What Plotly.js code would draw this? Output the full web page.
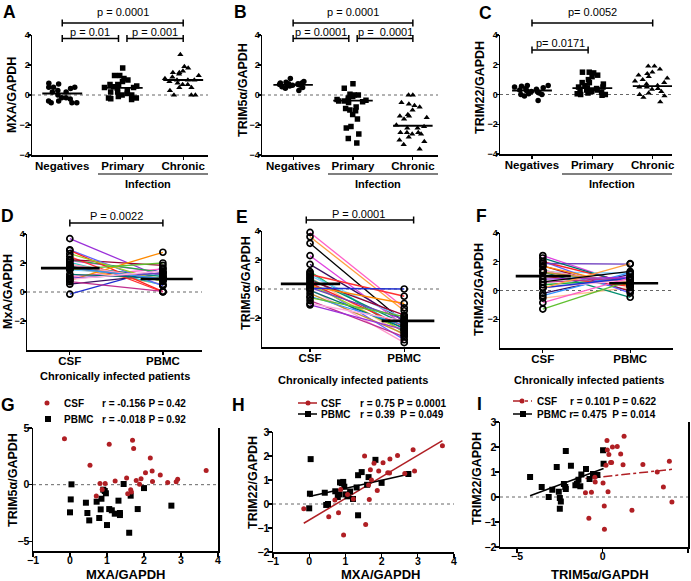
<!DOCTYPE html>
<html>
<head>
<meta charset="utf-8">
<script src="https://cdn.plot.ly/plotly-3.0.1.min.js"></script>
<style>html,body{margin:0;padding:0;background:#fff}#plot{width:691px;height:581px}</style>
</head>
<body>
<div id="plot"></div>
<script>
const W = 691, H = 581;
const FONT = 'Liberation Sans, Arial, Helvetica, sans-serif';
const RED = '#b01f24';

//------------------------------------------------------------------------------
// A-C : expression by cohort

const groups = ['Negatives', 'Primary', 'Chronic'];

const mxaNeg = [0.78, 0.73, 0.51, 0.51, 0.51, 0.44, 0.3, 0.2, 0.2, 0.0, -0.18, -0.18, -0.27, -0.4, -0.4, -0.51, -0.51, -0.51];
const mxaPrim = [1.8, 1.3, 1.3, 1.1, 1.0, 0.9, 0.7, 0.7, 0.65, 0.6, 0.55, 0.5, 0.5, 0.45, 0.3, 0.2, 0.2, 0.1, 0.0, 0.0, -0.1, -0.2, -0.2, -0.25, -0.3];
const mxaChron = [2.7, 1.9, 1.8, 1.6, 1.5, 1.5, 1.4, 1.3, 1.2, 1.1, 1.0, 1.0, 1.0, 0.9, 0.8, 0.7, 0.7, 0.5, 0.5, 0.3, 0.0, 0.0, 0.0];
const mxaMedian = [0.1, 0.48, 1.0];

const trim5Neg = [1.1, 0.9, 0.85, 0.8, 0.8, 0.75, 0.75, 0.7, 0.7, 0.7, 0.65, 0.65, 0.6, 0.55, 0.5, 0.45, 0.3];
const trim5Prim = [0.75, 0.45, 0.05, 0.0, 0.0, -0.1, -0.2, -0.3, -0.35, -0.35, -0.4, -0.4, -0.45, -0.5, -0.8, -0.9, -1.0, -1.05, -1.3, -1.6, -2.1, -2.2, -2.6, -2.9, -3.2];
const trim5Chron = [0.0, 0.0, -0.5, -0.6, -0.7, -0.8, -1.0, -1.3, -1.4, -1.4, -1.5, -1.6, -2.0, -2.1, -2.2, -2.2, -2.5, -2.5, -2.5, -2.6, -2.6, -2.8, -3.0, -3.1, -3.3, -3.6];
const trim5Median = [0.68, -0.38, -2.05];

const trim22Neg = [0.6, 0.6, 0.55, 0.5, 0.45, 0.4, 0.35, 0.3, 0.25, 0.2, 0.2, 0.1, 0.05, 0.0, 0.0, -0.1, -0.4];
const trim22Prim = [1.5, 1.5, 1.45, 1.3, 1.2, 1.0, 0.8, 0.8, 0.7, 0.6, 0.5, 0.5, 0.45, 0.4, 0.35, 0.3, 0.3, 0.2, 0.15, 0.1, 0.05, 0.0, 0.0, -0.05];
const trim22Chron = [1.9, 1.9, 1.7, 1.5, 1.4, 1.3, 1.2, 1.1, 1.0, 0.9, 0.8, 0.7, 0.6, 0.5, 0.5, 0.4, 0.35, 0.2, 0.1, 0.0, -0.1, -0.2, -0.5];
const trim22Median = [0.27, 0.43, 0.56];

//------------------------------------------------------------------------------
// D-I : chronically infected patients, CSF vs PBMC (same patient order)

const mxaCsf = [3.68, -0.15, 1.06, 1.69, 1.72, 2.17, 0.54, 2.22, 2.04, 2.44, 1.53, 1.92, 1.79, 2.23, 2.91, 2.87, 2.64, 0.81, 0.95, 1.88, 1.22, 1.64, 1.66, 1.56, 0.71, 0.87];
const trim5Csf = [1.26, 4.06, 3.56, 3.91, 3.20, 2.36, 1.72, 1.20, 1.06, 0.86, 0.58, 0.53, 0.37, 0.28, 0.47, 0.26, 0.20, 0.10, 0.11, 0.03, 0.32, -0.45, -0.65, -0.80, -1.00, -0.43];
const trim22Csf = [2.43, -0.20, 0.40, 1.43, 1.00, 1.30, -0.53, 1.29, 1.72, 2.02, 2.00, 1.38, 1.70, 1.88, 1.38, 2.26, 1.27, -0.36, -1.29, 0.56, 0.21, 0.79, 0.19, -0.85, 0.17, 0.60];

const mxaPbmc = [1.00, 1.64, 1.60, 0.52, 0.79, 1.35, 1.21, 1.35, 0.47, 0.00, 1.13, 0.83, 1.06, 1.83, 0.43, 0.02, 0.72, 2.74, 1.31, 0.85, 0.97, 0.94, 0.90, 2.00, 0.04, 1.45];
const trim5Pbmc = [-3.56, -0.97, -4.24, -3.15, -2.94, -2.68, -2.56, -2.50, -2.50, -2.44, -2.26, -2.18, -2.15, -2.15, -1.59, -1.30, -1.50, -1.85, -1.41, -1.24, -0.76, -0.56, -0.44, -0.30, 0.03, 0.06];
const trim22Pbmc = [0.40, 1.12, 0.80, 0.00, 0.29, 1.20, 0.21, -0.47, -0.04, -0.18, 0.52, 0.40, 0.32, 1.84, 0.47, 0.43, 0.53, 1.25, 0.69, 0.90, 0.72, 0.92, 0.87, 0.88, 1.87, 1.33];

// panel E as drawn (paired values)
const trim5CsfE = [3.90, 3.60, 3.15, 2.30, 1.70, 1.20, 1.10, 1.00, 0.90, 0.80, 0.70, 0.60, 0.50, 0.40, 0.30, 0.20, 0.10, 0.00, -0.10, -0.30, -0.50, -0.60, -0.80, -1.00, -1.10, 0.05];
const trim5PbmcE = [-1.30, -1.50, -2.30, -2.50, -2.20, -3.00, -2.80, -0.50, -2.00, -3.20, -2.40, -1.80, -3.50, -2.60, -2.90, -1.00, -2.10, -3.70, -2.70, -3.10, -2.50, -1.90, -3.30, -2.20, -2.80, 0.00];

const pairLabels = ['CSF', 'PBMC'];
const mxaMean = [1.65, 0.9];
const trim5Mean = [0.35, -2.2];
const trim22Mean = [1.0, 0.5];

const pairColors = ['#9b30d9', '#1f2fd0', '#ff5fc8', '#ffa040', '#000000', '#e040e0', '#3a1060',
  '#20b040', '#30c8d0', '#ff3030', '#80d0ff', '#ffc090', '#009070', '#990033', '#6060ff',
  '#ff2020', '#a0d020', '#ff8a00', '#7040c0', '#ff99cc', '#007070', '#c09030', '#3090ff',
  '#60c030', '#c03090', '#ffb0e0'];

//------------------------------------------------------------------------------

const fx = p => p / W;
const fy = p => 1 - p / H;
const ax = n => ({ x: n === 1 ? 'x' : 'x' + n, y: n === 1 ? 'y' : 'y' + n });

const layout = {
  width: W, height: H,
  margin: { l: 0, r: 0, t: 0, b: 0 },
  paper_bgcolor: 'white', plot_bgcolor: 'white',
  showlegend: false,
  font: { family: FONT, color: 'black' },
  shapes: [], annotations: []
};

function addAxes(n, xPx, yPx, xOpt, yOpt) {
  const base = {
    showline: true, linecolor: 'black', linewidth: 1.5,
    ticks: 'outside', ticklen: 3, tickwidth: 1.2, tickcolor: 'black',
    showgrid: false, zeroline: false, fixedrange: true,
    tickfont: { family: FONT, size: 9, weight: 'bold', color: 'black' }
  };
  const a = ax(n);
  layout[n === 1 ? 'xaxis' : 'xaxis' + n] = Object.assign({}, base,
    { domain: [fx(xPx[0]), fx(xPx[1])], anchor: a.y, ticklabelstandoff: -3 }, xOpt);
  layout[n === 1 ? 'yaxis' : 'yaxis' + n] = Object.assign({}, base,
    { domain: [fy(yPx[1]), fy(yPx[0])], anchor: a.x, ticklabelstandoff: -4 }, yOpt);
  // dotted zero reference
  layout.shapes.push({ type: 'line', xref: a.x + ' domain', yref: a.y, x0: 0, x1: 1, y0: 0, y1: 0,
    line: { color: '#666', width: 1, dash: 'dot' }, layer: 'below' });
}

function ann(xp, yp, text, size, opts) {
  return Object.assign({
    xref: 'paper', yref: 'paper', x: fx(xp), y: fy(yp), text: text, showarrow: false,
    xanchor: 'center', yanchor: 'middle', font: { family: FONT, size: size, color: 'black' }
  }, opts || {});
}

function bracket(n, x0, x1, yPx, label, labelYPx, labelX) {
  const xr = ax(n).x, l = { color: 'black', width: 1.5 };
  layout.shapes.push({ type: 'line', xref: xr, yref: 'paper', x0: x0, x1: x1, y0: fy(yPx), y1: fy(yPx), line: l });
  [x0, x1].forEach(x => layout.shapes.push({ type: 'line', xref: xr, yref: 'paper', x0: x, x1: x,
    y0: fy(yPx - 3.5), y1: fy(yPx + 3.5), line: l }));
  layout.annotations.push(ann(0, labelYPx, label, 11,
    { xref: xr, x: labelX === undefined ? (x0 + x1) / 2 : labelX }));
}

const traces = [];

//------------------------------------------------------------------------------
// A-C

const catTickFont = { family: FONT, size: 11.5, weight: 'bold', color: 'black' };
const cohortPanels = [
  { n: 1, xPx: [32, 208], yPx: [35, 155], xr: [-0.5, 2.41], sets: [mxaNeg, mxaPrim, mxaChron], med: mxaMedian },
  { n: 2, xPx: [262, 438], yPx: [35, 155], xr: [-0.52, 2.42], sets: [trim5Neg, trim5Prim, trim5Chron], med: trim5Median },
  { n: 3, xPx: [500, 672], yPx: [35, 154], xr: [-0.53, 2.32], sets: [trim22Neg, trim22Prim, trim22Chron], med: trim22Median }
];
const symbols = ['circle', 'square', 'triangle-up'];

cohortPanels.forEach(p => {
  addAxes(p.n, p.xPx, p.yPx,
    { range: p.xr, tickvals: [0, 1, 2], ticktext: groups, tickfont: catTickFont },
    { range: [-4, 4], tickvals: [-4, -2, 0, 2, 4] });
  const a = ax(p.n);
  p.sets.forEach((ys, k) => {
    traces.push({
      type: 'box', x0: k, y: ys, xaxis: a.x, yaxis: a.y, width: 0.62,
      boxpoints: 'all', jitter: 1, pointpos: 0,
      fillcolor: 'rgba(0,0,0,0)', line: { width: 0, color: 'rgba(0,0,0,0)' }, whiskerwidth: 0,
      marker: { symbol: symbols[k], size: 5.5, color: 'black' }, hoverinfo: 'skip'
    });
    traces.push({
      type: 'scatter', mode: 'lines', x: [k - 0.33, k + 0.33], y: [p.med[k], p.med[k]],
      xaxis: a.x, yaxis: a.y, line: { color: 'black', width: 1.8 }, hoverinfo: 'skip'
    });
  });
  // "Infection" group label
  const x0 = p.xPx[1] - 110;
  layout.shapes.push({ type: 'line', xref: 'paper', yref: 'paper', x0: fx(x0), x1: fx(p.xPx[1]),
    y0: fy(174), y1: fy(174), line: { color: 'black', width: 1.2 } });
  layout.annotations.push(ann(x0 + 50, 183.5, '<b>Infection</b>', 11));
});

bracket(1, 0, 2, 23, 'p = 0.0001', 12.5);
bracket(1, 0, 0.93, 38.5, 'p = 0.01', 32);
bracket(1, 1.07, 2, 38.5, 'p = 0.001', 32);
bracket(2, 0, 2, 23, 'p = 0.0001', 12.5);
bracket(2, 0, 0.93, 38.5, 'p = 0.0001', 32);
bracket(2, 1.07, 2, 38.5, 'p =  0.0001', 32);
bracket(3, 0, 2, 23, 'p= 0.0052', 12.5);
bracket(3, 0, 0.93, 50, 'p= 0.0171', 42.5);

//------------------------------------------------------------------------------
// D-F paired

const pairPanels = [
  { n: 4, xPx: [27, 202], yPx: [234, 350], xr: [-0.46, 1.42], csf: mxaCsf, pbmc: mxaPbmc, mean: mxaMean, shift: 0 },
  { n: 5, xPx: [262, 440], yPx: [231, 347], xr: [-0.51, 1.38], csf: trim5CsfE, pbmc: trim5PbmcE, mean: trim5Mean, shift: 2 },
  { n: 6, xPx: [500, 673], yPx: [233, 348], xr: [-0.49, 1.49], csf: trim22Csf, pbmc: trim22Pbmc, mean: trim22Mean, shift: 5 }
];

pairPanels.forEach(p => {
  addAxes(p.n, p.xPx, p.yPx,
    { range: p.xr, tickvals: [0, 1], ticktext: pairLabels, tickfont: catTickFont },
    { range: [-4, 4], tickvals: [-2, 0, 2, 4] });
  const a = ax(p.n);
  p.csf.forEach((v, i) => traces.push({
    type: 'scatter', mode: 'lines', x: [0, 1], y: [v, p.pbmc[i]], xaxis: a.x, yaxis: a.y,
    line: { color: pairColors[(i + p.shift) % pairColors.length], width: 1.3 }, hoverinfo: 'skip'
  }));
  [p.csf, p.pbmc].forEach((ys, k) => traces.push({
    type: 'scatter', mode: 'markers', x: ys.map(() => k), y: ys, xaxis: a.x, yaxis: a.y,
    marker: { symbol: 'circle-open', size: 6, color: 'black', line: { width: 1.7, color: 'black' } },
    cliponaxis: false, hoverinfo: 'skip'
  }));
  [[-0.31, 0.32], [0.76, 1.32]].forEach((xs, k) => traces.push({
    type: 'scatter', mode: 'lines', x: xs, y: [p.mean[k], p.mean[k]], xaxis: a.x, yaxis: a.y,
    line: { color: 'black', width: 2.6 }, hoverinfo: 'skip'
  }));
  layout.annotations.push(ann((p.xPx[0] + p.xPx[1]) / 2 + (p.n === 4 ? 0 : 2), p.n === 4 ? 375.5 : 380,
    '<b>Chronically infected patients</b>', 11));
});

bracket(4, 0, 1, 223, 'P = 0.0022', 216.5);
bracket(5, -0.04, 1.1, 220, 'P = 0.0001', 213.5, 0.51);

//------------------------------------------------------------------------------
// G-I correlations

function linFit(xs, ys) {
  const n = xs.length;
  const mx = xs.reduce((s, v) => s + v, 0) / n, my = ys.reduce((s, v) => s + v, 0) / n;
  let sxy = 0, sxx = 0;
  xs.forEach((x, i) => { sxy += (x - mx) * (ys[i] - my); sxx += (x - mx) * (x - mx); });
  const b = sxy / sxx, lo = Math.min(...xs), hi = Math.max(...xs);
  return { x: [lo, hi], y: [my + b * (lo - mx), my + b * (hi - mx)] };
}

const numTickFont = { family: FONT, size: 10.5, weight: 'bold', color: 'black' };
const corrPanels = [
  { n: 7, xPx: [33, 218], yPx: [428, 551], xr: [-1, 4], xt: [-1, 0, 1, 2, 3, 4], yr: [-5.85, 5], yt: [-5, 0, 5],
    csf: [mxaCsf, trim5Csf], pbmc: [mxaPbmc, trim5Pbmc], mirror: true, fit: false },
  { n: 8, xPx: [273, 454], yPx: [432, 552], xr: [-1, 4], xt: [-1, 0, 1, 2, 3, 4], yr: [-2, 3], yt: [-2, -1, 0, 1, 2, 3],
    csf: [mxaCsf, trim22Csf], pbmc: [mxaPbmc, trim22Pbmc], mirror: false, fit: true, dash: 'solid' },
  { n: 9, xPx: [500, 688], yPx: [422, 547], xr: [-6, 5], xt: [-5, 0, 5], yr: [-2, 3], yt: [-2, -1, 0, 1, 2, 3],
    csf: [trim5Csf, trim22Csf], pbmc: [trim5Pbmc, trim22Pbmc], mirror: true, fit: true, dash: 'dashdot' }
];

corrPanels.forEach(p => {
  addAxes(p.n, p.xPx, p.yPx,
    { range: p.xr, tickvals: p.xt, tickfont: numTickFont, ticklen: 4, ticklabelstandoff: -5 },
    { range: p.yr, tickvals: p.yt, tickfont: numTickFont, mirror: p.mirror, ticklen: 4 });
  const a = ax(p.n);
  if (p.fit) {
    const fc = linFit(p.csf[0], p.csf[1]), fp = linFit(p.pbmc[0], p.pbmc[1]);
    traces.push({ type: 'scatter', mode: 'lines', x: fc.x, y: fc.y, xaxis: a.x, yaxis: a.y,
      line: { color: RED, width: 1.5, dash: p.dash }, hoverinfo: 'skip' });
    traces.push({ type: 'scatter', mode: 'lines', x: fp.x, y: fp.y, xaxis: a.x, yaxis: a.y,
      line: { color: 'black', width: 1.5 }, hoverinfo: 'skip' });
  }
  traces.push({ type: 'scatter', mode: 'markers', x: p.pbmc[0], y: p.pbmc[1], xaxis: a.x, yaxis: a.y,
    marker: { symbol: 'square', size: 6, color: 'black' }, hoverinfo: 'skip' });
  traces.push({ type: 'scatter', mode: 'markers', x: p.csf[0], y: p.csf[1], xaxis: a.x, yaxis: a.y,
    marker: { symbol: 'circle', size: 5, color: RED }, hoverinfo: 'skip' });
});

// legend keys
function keyDot(cx, cy, color) {
  layout.shapes.push({ type: 'circle', xref: 'paper', yref: 'paper', x0: fx(cx - 2.5), x1: fx(cx + 2.5),
    y0: fy(cy + 2.5), y1: fy(cy - 2.5), fillcolor: color, line: { width: 0 } });
}
function keySquare(cx, cy) {
  layout.shapes.push({ type: 'rect', xref: 'paper', yref: 'paper', x0: fx(cx - 3), x1: fx(cx + 3),
    y0: fy(cy + 3), y1: fy(cy - 3), fillcolor: 'black', line: { width: 0 } });
}
function keyLine(x0, x1, cy, color, dash) {
  layout.shapes.push({ type: 'line', xref: 'paper', yref: 'paper', x0: fx(x0), x1: fx(x1), y0: fy(cy), y1: fy(cy),
    line: { color: color, width: 1.5, dash: dash || 'solid' } });
}
const leftText = { xanchor: 'left' };

keyDot(47, 403, RED); keySquare(48, 419);
layout.annotations.push(ann(62, 403, '<b>CSF</b>', 10, leftText), ann(100, 403, '<b>r = -0.156 P = 0.42</b>', 10, leftText),
  ann(62, 419, '<b>PBMC</b>', 10, leftText), ann(100, 419, '<b>r = -0.018 P = 0.92</b>', 10, leftText));

keyLine(298, 317, 403, RED); keyDot(308, 403, RED);
keyLine(298, 317, 414, 'black'); keySquare(308, 414);
layout.annotations.push(ann(319, 403, '<b>CSF</b>', 10, leftText), ann(358, 403, '<b>r = 0.75 P = 0.0001</b>', 10, leftText),
  ann(319, 414, '<b>PBMC</b>', 10, leftText), ann(358, 414, '<b>r = 0.39  P = 0.049</b>', 10, leftText));

keyLine(513, 532, 401, RED, 'dashdot'); keyDot(522, 401, RED);
keyLine(513, 532, 414, 'black'); keySquare(523, 414);
layout.annotations.push(ann(535, 401, '<b>CSF</b>', 10, leftText), ann(568, 401, '<b>r = 0.101 P = 0.622</b>', 10, leftText),
  ann(535, 414, '<b>PBMC r= 0.475  P = 0.014</b>', 10, leftText));

//------------------------------------------------------------------------------
// titles and panel letters

const yTitle = (xp, yp, t) => ann(xp, yp, '<b>' + t + '</b>', 12.5, { textangle: -90 });
layout.annotations.push(
  yTitle(12, 95, 'MXA/GAPDH'), yTitle(243, 90, 'TRIM5α/GAPDH'), yTitle(480, 88, 'TRIM22/GAPDH'),
  yTitle(8, 292, 'MxA/GAPDH'), yTitle(246, 283, 'TRIM5α/GAPDH'), yTitle(479, 290, 'TRIM22/GAPDH'),
  yTitle(13, 480, 'TRIM5α/GAPDH'), yTitle(253, 483, 'TRIM22/GAPDH'), yTitle(477, 478, 'TRIM22/GAPDH'),
  ann(125, 574.5, '<b>MXA/GAPDH</b>', 13), ann(380, 574.5, '<b>MXA/GAPDH</b>', 13), ann(600, 574.5, '<b>TRIM5α/GAPDH</b>', 13)
);

[['A', 9, 12], ['B', 241, 12], ['C', 485, 13], ['D', 8, 216], ['E', 242, 217], ['F', 481, 216],
 ['G', 8, 405], ['H', 238, 405], ['I', 479, 404]].forEach(([t, x, y]) =>
  layout.annotations.push(ann(x, y, '<b>' + t + '</b>', 17.5)));

Plotly.newPlot('plot', traces, layout, { staticPlot: true, displayModeBar: false });
</script>
</body>
</html>
